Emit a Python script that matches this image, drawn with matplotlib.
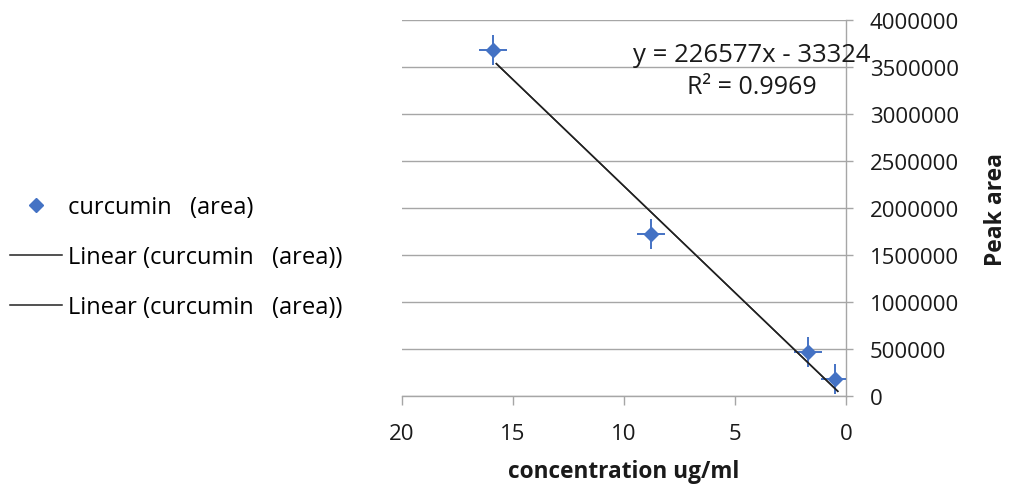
import matplotlib
matplotlib.use("Agg")
import matplotlib.pyplot as plt
import numpy as np

# data
conc = [15.9, 8.8, 1.7, 0.5]
area = [3680000, 1720000, 465000, 180000]
x_err = [0.63, 0.63, 0.63, 0.63]
y_err = [160000, 160000, 160000, 160000]
slope = 226577
intercept = -33324
r2 = 0.9969
x_ticks = [20, 15, 10, 5, 0]
y_ticks = [0, 500000, 1000000, 1500000, 2000000, 2500000, 3000000, 3500000, 4000000]

plt.rcParams['font.family'] = ['Open Sans', 'DejaVu Sans']
blue = '#4472C4'
grid_c = '#a6a6a6'
txt_c = '#1a1a1a'

fig = plt.figure(figsize=(10.09, 4.89), dpi=100)
ax = fig.add_axes([402/1009, 1-397/489, (846-402)/1009, (397-21)/489])

ax.errorbar(conc, area, xerr=x_err, yerr=y_err, fmt='none', ecolor=blue,
            elinewidth=1.4, capsize=0, zorder=3)
pts, = ax.plot(conc, area, linestyle='none', marker='D', markersize=7,
               color=blue, label='curcumin   (area)', zorder=4)

xt = np.array([min(conc) - 0.13, max(conc) - 0.15])
yt = slope * xt + intercept
l1, = ax.plot(xt, yt, color='#222222', lw=1.1, label='Linear (curcumin   (area))', zorder=5)
l2, = ax.plot(xt, yt, color='#222222', lw=1.1, label='Linear (curcumin   (area))', zorder=5)

ax.set_xlim(20, 0)
ax.set_ylim(0, 4000000)
ax.set_xticks(x_ticks)
ax.set_xticklabels([str(v) for v in x_ticks])
ax.set_yticks(y_ticks)
ax.set_yticklabels([str(v) for v in y_ticks])

ax.yaxis.tick_right()
ax.yaxis.set_label_position('right')
for s in ['top', 'left']:
    ax.spines[s].set_visible(False)
for s in ['bottom', 'right']:
    ax.spines[s].set_color(grid_c)
    ax.spines[s].set_linewidth(1.0)
ax.grid(axis='y', color=grid_c, lw=1.0)
ax.set_axisbelow(True)
ax.tick_params(axis='both', colors=grid_c, labelcolor=txt_c, labelsize=16, width=1.0)
ax.tick_params(axis='y', length=5, pad=12)
ax.tick_params(axis='x', length=6.5, pad=13)

ax.set_xlabel('concentration ug/ml', fontsize=16.3, fontweight='bold', labelpad=11, color=txt_c)
ax.set_ylabel('Peak area', fontsize=16.5, fontweight='bold', labelpad=18, rotation=90, color=txt_c)

ax.text((752-402)/444, (397-55)/376, f'y = {slope}x - {abs(intercept)}', transform=ax.transAxes,
        ha='center', va='center', fontsize=18.5, color=txt_c)
ax.text((752-402)/444, (397-87)/376, f'R² = {r2}', transform=ax.transAxes,
        ha='center', va='center', fontsize=18, color=txt_c)

fig.legend(handles=[pts, l1, l2], loc='center left', bbox_to_anchor=(10/1009, 1-258/489),
           frameon=False, fontsize=17, handlelength=2.2, handletextpad=0.25,
           labelspacing=1.1, borderpad=0, borderaxespad=0)

fig.savefig('out.png', dpi=100)
